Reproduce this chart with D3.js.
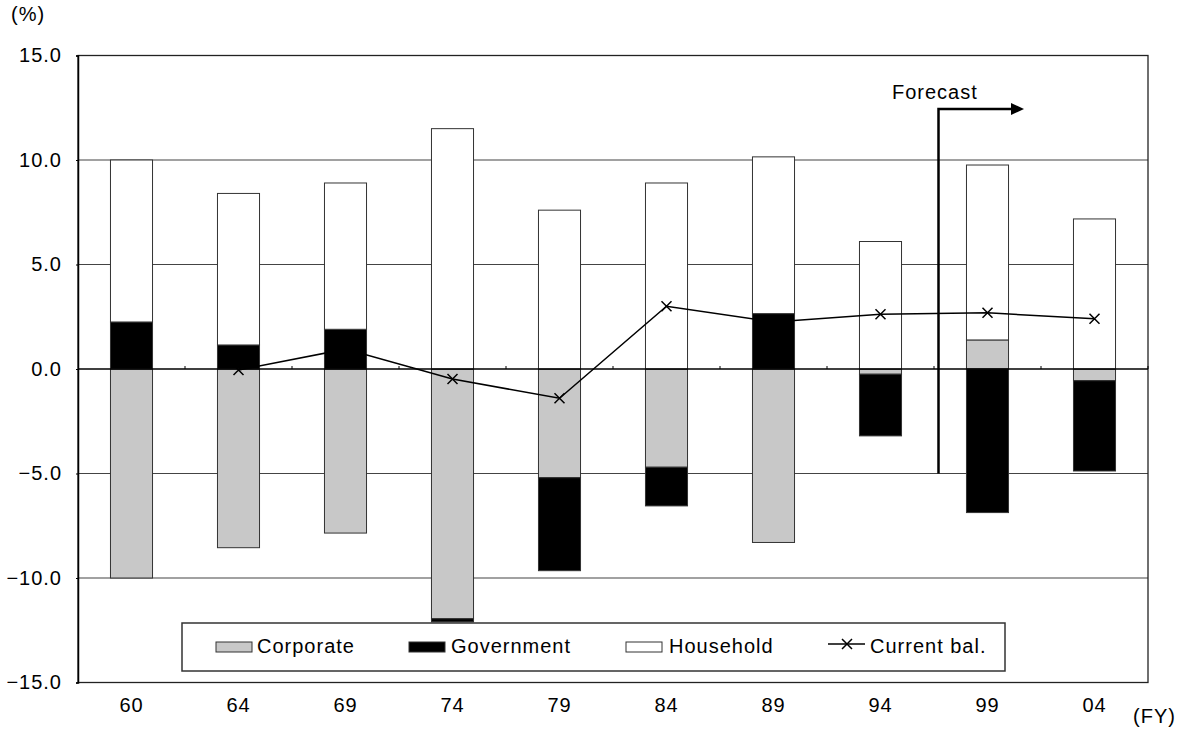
<!DOCTYPE html>
<html>
<head>
<meta charset="utf-8">
<script src="https://cdn.jsdelivr.net/npm/d3@7"></script>
<style>
  body { margin: 0; background: #fff; }
  text { font-family: "Liberation Sans", Arial, sans-serif; font-size: 20px; letter-spacing: 1px; fill: #000; }
</style>
</head>
<body>
<div class="chart"></div>
<script>
// Data (% values)
const years = ["60", "64", "69", "74", "79", "84", "89", "94", "99", "04"];
const corporate = [-10.0, -8.55, -7.85, -11.95, -5.2, -4.7, -8.3, -0.25, 1.39, -0.56];
const government = [2.25, 1.15, 1.9, -0.15, -4.45, -1.85, 2.65, -2.95, -6.87, -4.32];
const household = [7.75, 7.25, 7.0, 11.5, 7.6, 8.9, 7.5, 6.1, 8.37, 7.18];
const currentBal = [null, -0.05, 0.95, -0.48, -1.4, 3.0, 2.25, 2.62, 2.69, 2.4];
const yTicks = [15, 10, 5, 0, -5, -10, -15];
const seriesNames = ["Corporate", "Government", "Household"];
const forecastFrom = "99";

const width = 1183;
const height = 737;
const plot = { left: 78, right: 1148, top: 55.5, bottom: 682.5 };

const svg = d3.select(".chart")
  .append("svg")
  .attr("width", width)
  .attr("height", height);

// Build rows for d3.stack
const rows = years.map((y, i) => ({
  year: y,
  Corporate: corporate[i],
  Government: government[i],
  Household: household[i]
}));

const stack = d3.stack()
  .keys(seriesNames)
  .offset(d3.stackOffsetDiverging);
const stacked = stack(rows);

// Scales
const x = d3.scaleBand()
  .domain(years)
  .range([plot.left, plot.right])
  .paddingInner(0.607)
  .paddingOuter(0.3035);

const y = d3.scaleLinear()
  .domain([-15, 15])
  .range([plot.bottom, plot.top]);

const fills = { Corporate: "#c8c8c8", Government: "#000000", Household: "#ffffff" };

// Gridlines
svg.append("g")
  .selectAll("line")
  .data(yTicks.filter(d => d !== 0 && Math.abs(d) !== 15))
  .join("line")
  .attr("x1", plot.left)
  .attr("x2", plot.right)
  .attr("y1", d => y(d))
  .attr("y2", d => y(d))
  .attr("stroke", "#444")
  .attr("stroke-width", 1.2);

// Frame
svg.append("rect")
  .attr("x", plot.left)
  .attr("y", plot.top)
  .attr("width", plot.right - plot.left)
  .attr("height", plot.bottom - plot.top)
  .attr("fill", "none")
  .attr("stroke", "#222")
  .attr("stroke-width", 1.3);

// Y axis
const yAxis = svg.append("g")
  .attr("transform", `translate(${plot.left},0)`)
  .call(d3.axisLeft(y).tickValues(yTicks).tickSize(2).tickPadding(14).tickFormat(d3.format(".1f")));
yAxis.select(".domain").attr("stroke", "#000").attr("stroke-width", 1.5);
yAxis.selectAll("text")
  .attr("font-size", null)
  .attr("font-family", null)
  .attr("dy", "0.32em");

// Bars
svg.append("g")
  .selectAll("g")
  .data(stacked)
  .join("g")
  .attr("fill", d => fills[d.key])
  .selectAll("rect")
  .data(d => d)
  .join("rect")
  .attr("x", d => x(d.data.year))
  .attr("width", x.bandwidth())
  .attr("y", d => y(Math.max(d[0], d[1])))
  .attr("height", d => Math.abs(y(d[0]) - y(d[1])))
  .attr("stroke", "#333")
  .attr("stroke-width", 1);

// Zero axis with small upward ticks at band boundaries
svg.append("line")
  .attr("x1", plot.left)
  .attr("x2", plot.right)
  .attr("y1", y(0))
  .attr("y2", y(0))
  .attr("stroke", "#000")
  .attr("stroke-width", 1.3);

const step = x.step();
svg.append("g")
  .selectAll("line")
  .data(years)
  .join("line")
  .attr("x1", d => x(d) - x.paddingInner() * step / 2 + step)
  .attr("x2", d => x(d) - x.paddingInner() * step / 2 + step)
  .attr("y1", y(0))
  .attr("y2", y(0) - 3)
  .attr("stroke", "#000")
  .attr("stroke-width", 1);

// X labels
svg.append("g")
  .selectAll("text")
  .data(years)
  .join("text")
  .attr("x", d => x(d) + x.bandwidth() / 2)
  .attr("y", 712)
  .attr("text-anchor", "middle")
  .text(d => d);

// Current balance line
const balPoints = years.map((yr, i) => ({ year: yr, v: currentBal[i] })).filter(d => d.v !== null);
const line = d3.line()
  .x(d => x(d.year) + x.bandwidth() / 2)
  .y(d => y(d.v));

svg.append("path")
  .datum(balPoints)
  .attr("d", line)
  .attr("fill", "none")
  .attr("stroke", "#000")
  .attr("stroke-width", 1.5);

const cross = "M-5,-5L5,5M-5,5L5,-5";
svg.append("g")
  .selectAll("path")
  .data(balPoints)
  .join("path")
  .attr("transform", d => `translate(${x(d.year) + x.bandwidth() / 2},${y(d.v)})`)
  .attr("d", cross)
  .attr("stroke", "#000")
  .attr("stroke-width", 1.5);

// Forecast marker (slightly right of the 94/99 boundary, as in the original)
const fx = x(forecastFrom) - x.paddingInner() * step / 2 + 4.5;
svg.append("path")
  .attr("d", `M${fx},${y(-5)}V${109}H${1012}`)
  .attr("fill", "none")
  .attr("stroke", "#000")
  .attr("stroke-width", 2.5);
svg.append("path")
  .attr("d", `M1011,103L1024,109L1011,115Z`)
  .attr("fill", "#000");
svg.append("text")
  .attr("x", 892)
  .attr("y", 99)
  .text("Forecast");

// Legend
const legend = svg.append("g");
legend.append("rect")
  .attr("x", 182)
  .attr("y", 623)
  .attr("width", 823)
  .attr("height", 48)
  .attr("fill", "#fff")
  .attr("stroke", "#333")
  .attr("stroke-width", 1.5);

const legendItems = [
  { name: "Corporate", sx: 216, tx: 257 },
  { name: "Government", sx: 409, tx: 451 },
  { name: "Household", sx: 626, tx: 669 }
];
legend.selectAll(".sw")
  .data(legendItems)
  .join("rect")
  .attr("class", "sw")
  .attr("x", d => d.sx)
  .attr("y", 642)
  .attr("width", 36)
  .attr("height", 10)
  .attr("fill", d => fills[d.name])
  .attr("stroke", "#333")
  .attr("stroke-width", 1);
legend.selectAll(".lt")
  .data(legendItems)
  .join("text")
  .attr("class", "lt")
  .attr("x", d => d.tx)
  .attr("y", 653)
  .text(d => d.name);

legend.append("line")
  .attr("x1", 828).attr("x2", 865)
  .attr("y1", 644).attr("y2", 644)
  .attr("stroke", "#000").attr("stroke-width", 1.5);
legend.append("path")
  .attr("transform", "translate(847,644)")
  .attr("d", cross)
  .attr("stroke", "#000")
  .attr("stroke-width", 1.5);
legend.append("text")
  .attr("x", 870)
  .attr("y", 653)
  .text("Current bal.");

// Units
svg.append("text").attr("x", 11).attr("y", 21).attr("font-size", 18).text("(%)");
svg.append("text").attr("x", 1133).attr("y", 723).text("(FY)");
</script>
</body>
</html>
